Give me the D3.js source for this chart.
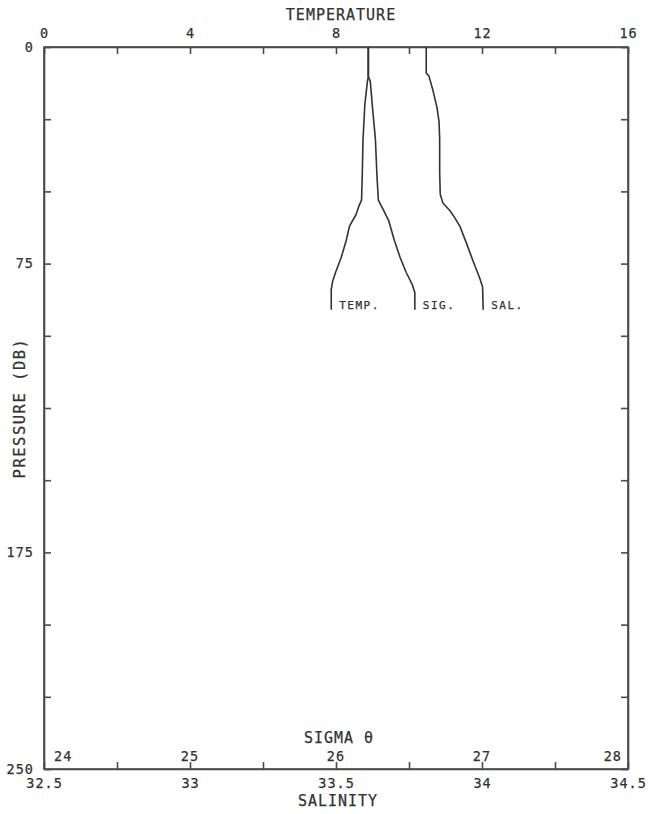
<!DOCTYPE html>
<html>
<head>
<meta charset="utf-8">
<script src="https://cdn.jsdelivr.net/npm/d3@7"></script>
<style>
  body { margin: 0; background: #fff; }
  svg { display: block; }
  text { font-family: "DejaVu Sans Mono", monospace; fill: #333; stroke: #333; stroke-width: 0.25px; }
  .axis path, .axis line { stroke: #4a4a4a; stroke-width: 1.6; }
  .axis text { font-size: 13.5px; letter-spacing: 1px; }
</style>
</head>
<body>
<svg id="svg" width="657" height="814"></svg>
<script>
// profile data, pressure in dbar
const tempP = [0, 10, 12, 20, 32, 44, 53, 55, 58, 62, 67, 73, 78, 81, 84, 91];
const tempT = [8.89, 8.89, 8.86, 8.79, 8.74, 8.72, 8.70, 8.63, 8.55, 8.37, 8.28, 8.14, 7.99, 7.91, 7.87, 7.87];

const sigP = [0, 10, 12, 21, 32, 44, 53, 56, 60, 67, 73, 78, 82, 85, 91];
const sigV = [26.22, 26.22, 26.235, 26.25, 26.27, 26.28, 26.29, 26.32, 26.36, 26.40, 26.44, 26.48, 26.52, 26.54, 26.54];

const salP = [0, 9, 10, 15, 21, 26, 32, 43, 51, 54, 56.5, 59, 62, 68, 74, 80, 83, 91];
const salV = [33.809, 33.809, 33.818, 33.832, 33.846, 33.853, 33.855, 33.855, 33.857, 33.866, 33.889, 33.906, 33.924, 33.947, 33.969, 33.992, 34.002, 34.004];

const tempLabels = [0, 4, 8, 12, 16];
const presLabels = [0, 75, 175, 250];
const salLabels = [32.5, 33, 33.5, 34, 34.5];
const sigLabels = [24, 25, 26, 27, 28];

const svg = d3.select('#svg');
const padding = {top: 47, right: 29, bottom: 45, left: 44};
const chartArea = {
    width: 657 - padding.left - padding.right,
    height: 814 - padding.top - padding.bottom
};

const yScale = d3.scaleLinear().domain([0, 250]).range([0, chartArea.height]);
const tScale = d3.scaleLinear().domain([0, 16]).range([0, chartArea.width]);
const sScale = d3.scaleLinear().domain([32.5, 34.5]).range([0, chartArea.width]);
const gScale = d3.scaleLinear().domain([24, 28]).range([0, chartArea.width]);

const g = svg.append('g')
    .attr('transform', 'translate(' + padding.left + ',' + padding.top + ')');

// frame
g.append('rect')
    .attr('width', chartArea.width)
    .attr('height', chartArea.height)
    .attr('fill', 'none')
    .attr('stroke', '#4a4a4a')
    .attr('stroke-width', 1.6);

// top axis - temperature
g.append('g').classed('axis', true)
    .call(d3.axisTop(tScale)
        .tickValues(d3.range(0, 17, 2))
        .tickSizeInner(-7).tickSizeOuter(0).tickPadding(9)
        .tickFormat(d => tempLabels.includes(d) ? d : ''));

// bottom axis - salinity
g.append('g').classed('axis', true)
    .attr('transform', 'translate(0,' + chartArea.height + ')')
    .call(d3.axisBottom(sScale)
        .tickValues(d3.range(32.5, 34.51, 0.25))
        .tickSizeInner(-7).tickSizeOuter(0).tickPadding(9)
        .tickFormat(d => salLabels.includes(+d.toFixed(2)) ? String(+d.toFixed(1)) : ''));

// left axis - pressure
g.append('g').classed('axis', true)
    .call(d3.axisLeft(yScale)
        .tickValues(d3.range(0, 251, 25))
        .tickSizeInner(-7).tickSizeOuter(0).tickPadding(10)
        .tickFormat(d => presLabels.includes(d) ? d : ''));

// right axis, ticks only
g.append('g').classed('axis', true)
    .attr('transform', 'translate(' + chartArea.width + ',0)')
    .call(d3.axisRight(yScale)
        .tickValues(d3.range(0, 251, 25))
        .tickSizeInner(-7).tickSizeOuter(0)
        .tickFormat(''));

// sigma labels inside bottom
g.selectAll('.sigLabel').data(sigLabels)
    .enter().append('text')
    .attr('x', function(d, i) {
        if (i === 0) return gScale(d) + 10;
        if (i === sigLabels.length - 1) return gScale(d) - 6;
        return gScale(d);
    })
    .attr('y', chartArea.height - 8)
    .attr('text-anchor', function(d, i) {
        if (i === 0) return 'start';
        if (i === sigLabels.length - 1) return 'end';
        return 'middle';
    })
    .style('font-size', '13.5px')
    .style('letter-spacing', '1px')
    .text(d => d);

// profiles
const series = [
    {p: tempP, v: tempT, x: tScale, label: 'TEMP.'},
    {p: sigP, v: sigV, x: gScale, label: 'SIG.'},
    {p: salP, v: salV, x: sScale, label: 'SAL.'}
];

series.forEach(function(s) {
    const pts = s.p.map((p, i) => [s.x(s.v[i]), yScale(p)]);
    g.append('path')
        .attr('d', d3.line()(pts))
        .attr('fill', 'none')
        .attr('stroke', '#333')
        .attr('stroke-width', 1.6)
        .attr('stroke-linejoin', 'round');
    const last = pts[pts.length - 1];
    g.append('text')
        .attr('x', last[0] + 8)
        .attr('y', last[1] - 1)
        .style('font-size', '11px')
        .style('letter-spacing', '1.5px')
        .text(s.label);
});

// titles
svg.append('text')
    .attr('x', padding.left + chartArea.width / 2 + 5)
    .attr('y', 20)
    .attr('text-anchor', 'middle')
    .style('font-size', '15px')
    .style('letter-spacing', '1px')
    .text('TEMPERATURE');

svg.append('text')
    .attr('x', padding.left + chartArea.width / 2 + 3)
    .attr('y', 743)
    .attr('text-anchor', 'middle')
    .style('font-size', '15px')
    .style('letter-spacing', '1px')
    .text('SIGMA θ');

svg.append('text')
    .attr('x', padding.left + chartArea.width / 2 + 2)
    .attr('y', 806)
    .attr('text-anchor', 'middle')
    .style('font-size', '15px')
    .style('letter-spacing', '1px')
    .text('SALINITY');

svg.append('text')
    .attr('transform', 'translate(25,408) rotate(-90)')
    .attr('text-anchor', 'middle')
    .style('font-size', '15.5px')
    .style('letter-spacing', '1.5px')
    .text('PRESSURE (DB)');
</script>
</body>
</html>
